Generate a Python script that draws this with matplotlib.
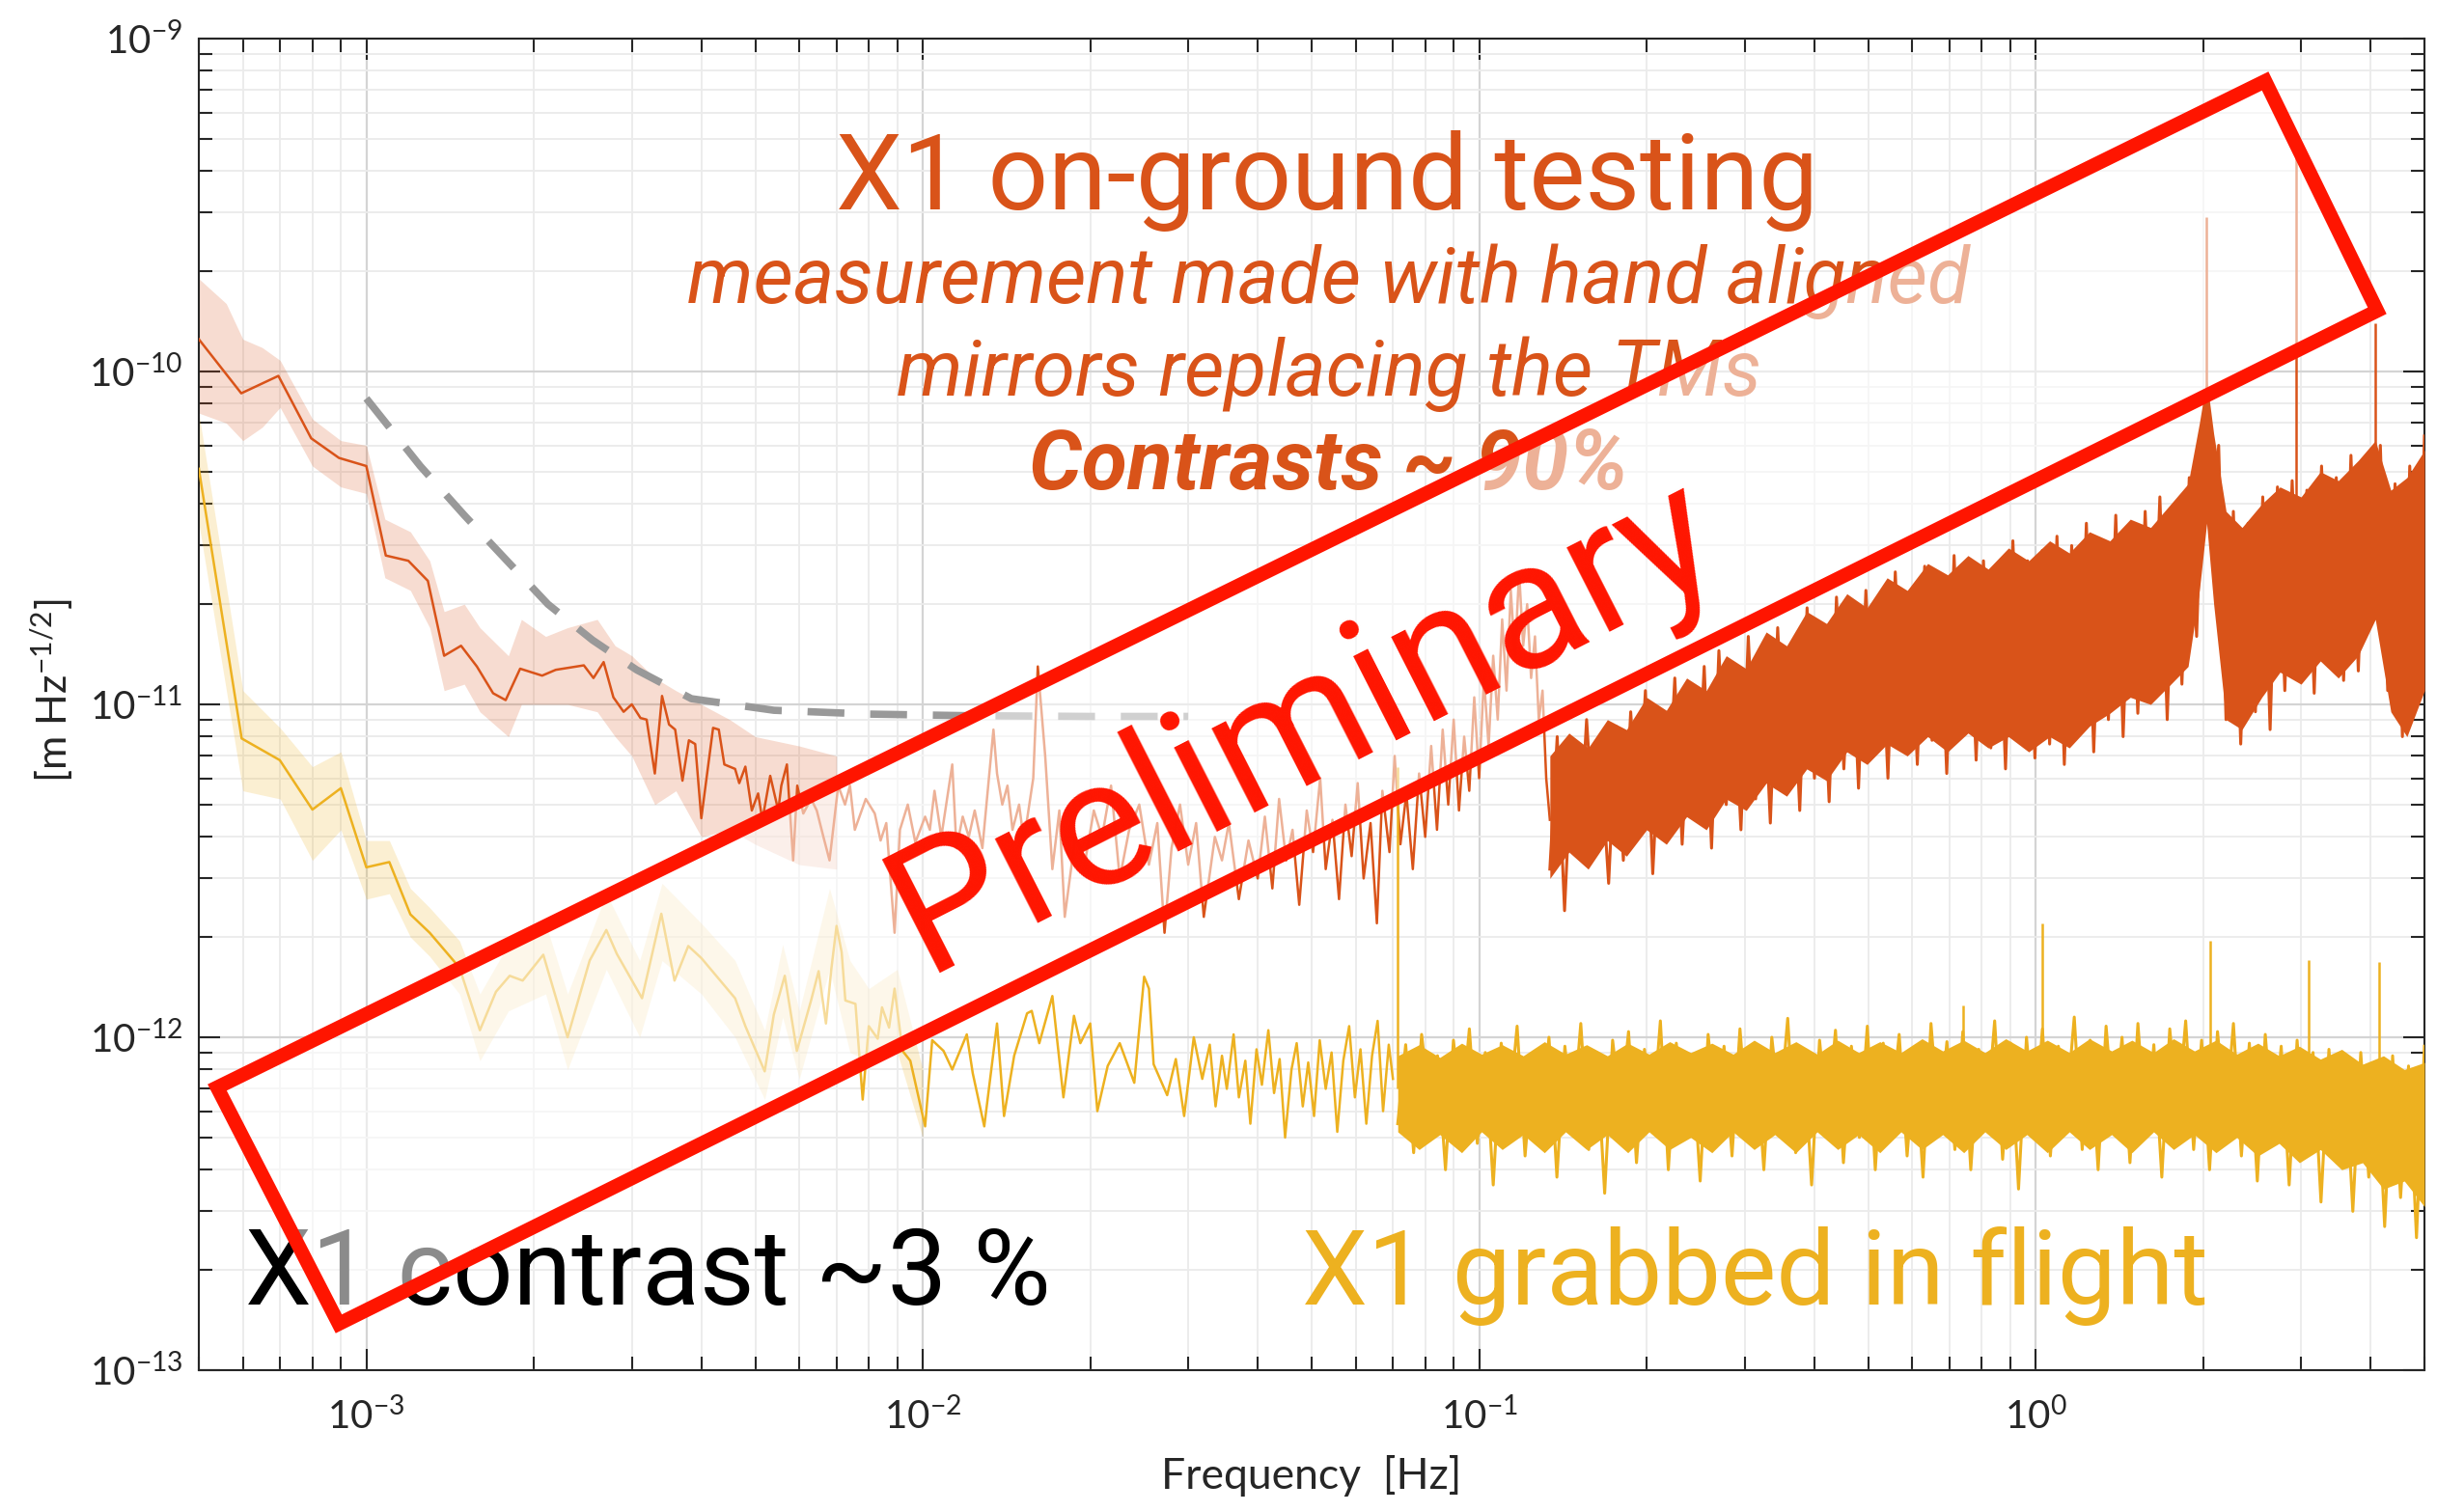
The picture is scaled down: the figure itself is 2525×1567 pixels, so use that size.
import matplotlib
matplotlib.use('Agg')
import matplotlib.pyplot as plt
import numpy as np
from matplotlib.patches import Polygon
from matplotlib.ticker import LogLocator, LogFormatterMathtext, NullFormatter

plt.rcParams['font.family'] = ['Lato', 'DejaVu Sans']
plt.rcParams['mathtext.fontset'] = 'custom'
plt.rcParams['mathtext.rm'] = 'Lato'
plt.rcParams['mathtext.it'] = 'Lato:italic'
plt.rcParams['mathtext.bf'] = 'Lato:bold'
ANNOT_FONT = ['Roboto', 'Lato', 'DejaVu Sans']

UNIT = 1e-12  # all values below are in units of 1e-12 m/sqrt(Hz)

ORANGE = '#D95319'
YELLOW = '#EDB120'
RED = '#FF1500'

# ---- X1 on-ground testing: averaged low-frequency line ----
ground_f = [5.0e-4, 5.96e-4, 6.95e-4, 7.96e-4, 8.93e-4, 1.0e-3, 1.084e-3, 1.19e-3, 1.29e-3, 1.38e-3,
            1.48e-3, 1.58e-3, 1.69e-3, 1.78e-3, 1.89e-3, 2.07e-3, 2.19e-3, 2.46e-3, 2.56e-3, 2.67e-3,
            2.78e-3, 2.9e-3, 3.0e-3, 3.11e-3, 3.19e-3, 3.3e-3, 3.4e-3, 3.5e-3, 3.59e-3, 3.7e-3,
            3.8e-3, 3.9e-3, 4.0e-3, 4.2e-3, 4.3e-3, 4.4e-3, 4.6e-3, 4.68e-3, 4.8e-3, 4.93e-3,
            5.06e-3, 5.15e-3, 5.32e-3, 5.5e-3, 5.57e-3, 5.7e-3, 5.85e-3, 5.95e-3, 6.1e-3, 6.3e-3,
            6.45e-3, 6.63e-3, 6.8e-3, 7.05e-3, 7.25e-3, 7.4e-3, 7.55e-3, 7.9e-3, 8.2e-3, 8.4e-3,
            8.6e-3, 8.9e-3, 9.1e-3, 9.4e-3, 9.7e-3, 1.01e-2, 1.03e-2, 1.05e-2, 1.08e-2, 1.13e-2,
            1.15e-2, 1.18e-2, 1.21e-2, 1.24e-2, 1.28e-2, 1.34e-2, 1.36e-2, 1.39e-2, 1.42e-2, 1.45e-2,
            1.49e-2, 1.52e-2, 1.58e-2, 1.61e-2, 1.66e-2, 1.71e-2, 1.76e-2, 1.80e-2, 1.88e-2, 1.96e-2,
            2.03e-2, 2.1e-2, 2.18e-2, 2.26e-2, 2.35e-2, 2.45e-2, 2.55e-2, 2.64e-2, 2.72e-2, 2.8e-2,
            2.9e-2, 3.0e-2, 3.1e-2, 3.2e-2, 3.35e-2, 3.45e-2, 3.55e-2, 3.7e-2, 3.85e-2, 4.0e-2,
            4.12e-2, 4.25e-2, 4.37e-2, 4.5e-2, 4.62e-2, 4.75e-2, 4.9e-2, 5.03e-2, 5.18e-2, 5.3e-2,
            5.45e-2, 5.6e-2, 5.75e-2, 5.9e-2, 6.05e-2, 6.2e-2, 6.38e-2, 6.55e-2, 6.7e-2, 6.9e-2,
            7.05e-2, 7.22e-2, 7.4e-2, 7.6e-2, 7.8e-2, 8.0e-2, 8.2e-2, 8.4e-2, 8.6e-2, 8.8e-2,
            9.0e-2, 9.2e-2, 9.4e-2, 9.6e-2, 9.8e-2, 0.100, 0.102, 0.104, 0.106, 0.108,
            0.110, 0.112, 0.114, 0.116, 0.118, 0.120, 0.122, 0.124, 0.126, 0.128,
            0.130, 0.132, 0.134]
ground_v = [125, 86, 97, 63, 55, 52, 28, 27, 23.5, 14,
            15, 13, 10.8, 10.3, 12.8, 12.2, 12.7, 13.1, 12.0, 13.4,
            10.5, 9.5, 10.0, 9.1, 9.0, 6.2, 10.6, 8.7, 8.4, 5.9,
            7.8, 7.6, 4.55, 8.5, 8.4, 6.6, 6.4, 5.8, 6.5, 4.8,
            5.4, 4.5, 6.1, 4.8, 5.7, 6.6, 3.4, 5.7, 4.7, 5.2,
            4.8, 4.0, 3.4, 5.7, 5.0, 5.7, 4.2, 5.2, 4.7, 3.9,
            4.4, 2.06, 4.2, 5.0, 3.85, 4.6, 4.2, 5.5, 4.0, 6.6,
            3.7, 4.6, 4.0, 4.8, 3.7, 8.4, 6.2, 5.0, 5.7, 4.2,
            5.0, 3.9, 6.0, 13.0, 7.0, 3.2, 4.8, 2.3, 4.0, 3.4,
            4.8, 4.0, 5.7, 3.0, 4.2, 5.0, 3.3, 4.4, 2.06, 3.7,
            5.0, 3.3, 4.4, 2.3, 4.0, 3.4, 4.4, 2.6, 3.9, 3.0,
            4.6, 2.8, 5.2, 3.4, 4.2, 2.5, 4.8, 3.6, 6.0, 3.2,
            4.5, 2.6, 5.0, 3.5, 5.8, 3.0, 4.4, 2.2, 5.5, 3.6,
            7.0, 3.8, 5.4, 3.2, 6.2, 4.0, 7.5, 4.2, 8.4, 5.0,
            9.0, 4.8, 8.0, 5.5, 10.5, 6.0, 12.0, 7.5, 14.0, 9.0,
            18.0, 11.0, 22.0, 14.0, 25.0, 15.0, 20.0, 12.0, 16.0, 9.0,
            11.0, 6.0, 4.5]

# shaded uncertainty band of the averaged on-ground line
ground_band_f = [5.0e-4, 5.6e-4, 6.0e-4, 6.5e-4, 7.0e-4, 8.0e-4, 9.0e-4, 1.0e-3, 1.08e-3, 1.2e-3,
                 1.3e-3, 1.38e-3, 1.5e-3, 1.6e-3, 1.8e-3, 1.9e-3, 2.1e-3, 2.3e-3, 2.6e-3, 2.8e-3,
                 3.0e-3, 3.3e-3, 3.6e-3, 4.0e-3, 4.5e-3, 5.0e-3, 6.0e-3, 7.0e-3]
ground_band_lo = [75, 70, 62, 68, 78, 52, 45, 43, 24, 22,
                  17, 11, 11.5, 9.5, 8.0, 10, 10, 10, 9.5, 8,
                  7, 5, 5.5, 4, 4.2, 3.8, 3.3, 3.2]
ground_band_hi = [190, 160, 125, 118, 108, 72, 62, 60, 36, 33,
                  27, 19, 20, 17, 14, 18, 16, 17, 18, 15,
                  14, 12, 11, 10, 9, 8, 7.5, 7]

# dense high-frequency part (0.134 - 5 Hz), one value per bin
ground_dense_v = [3.2, 8.0, 2.4, 7.2, 3.6, 9.0, 4.0, 6.5, 2.9, 8.6,
                  3.4, 9.5, 4.2, 11.0, 3.1, 8.8, 4.5, 12.0, 3.8, 10.2,
                  4.6, 13.0, 3.7, 14.5, 5.0, 11.5, 4.2, 16.0, 5.2, 13.5,
                  4.4, 17.0, 5.8, 15.0, 4.8, 19.5, 6.0, 16.5, 5.1, 21.0,
                  6.4, 18.0, 5.6, 22.0, 7.0, 19.5, 6.0, 25.0, 7.4, 21.0,
                  6.6, 26.0, 7.8, 23.0, 6.2, 28.0, 8.0, 24.0, 6.8, 27.0,
                  7.4, 25.0, 6.4, 31.0, 8.2, 27.0, 6.9, 29.0, 7.6, 32.0,
                  6.6, 30.0, 8.4, 35.0, 7.2, 31.0, 9.0, 37.0, 8.0, 33.0,
                  9.4, 38.0, 10.5, 42.0, 9.0, 40.0, 11.5, 48.0, 16.0, 75.0,
                  30.0, 60.0, 9.0, 38.0, 7.6, 35.0, 9.5, 42.0, 8.4, 45.0,
                  11.0, 47.0, 12.5, 44.0, 10.8, 52.0, 13.0, 48.0, 11.8, 56.0,
                  12.6, 50.0, 18.0, 60.0, 11.0, 46.0, 8.0, 52.0, 10.5, 64.0]
# solid core of the dense noise (ragged edges)
ground_core_f = [0.134, 0.145, 0.157, 0.170, 0.184, 0.200, 0.217, 0.236, 0.256, 0.278,
                 0.302, 0.328, 0.357, 0.388, 0.421, 0.458, 0.498, 0.541, 0.588, 0.640,
                 0.695, 0.756, 0.822, 0.894, 0.972, 1.06, 1.15, 1.25, 1.36, 1.48,
                 1.61, 1.75, 1.88, 1.97, 2.03, 2.09, 2.2, 2.35, 2.55, 2.75,
                 3.0, 3.25, 3.5, 3.8, 4.08, 4.35, 4.65, 5.0]
ground_core_lo = [3.0, 3.6, 3.2, 3.9, 3.5, 4.2, 3.8, 4.6, 4.2, 5.2,
                  4.8, 5.8, 5.3, 6.4, 5.9, 7.2, 6.6, 7.6, 7.0, 8.0,
                  7.2, 8.2, 7.4, 8.0, 7.2, 8.0, 7.4, 8.6, 9.4, 10.5,
                  10.0, 11.5, 13.0, 22.0, 35.0, 20.0, 9.0, 8.4, 10.5, 12.5,
                  11.5, 13.5, 12.0, 14.0, 18.0, 9.5, 8.0, 11.0]
ground_core_hi = [7.0, 8.2, 7.4, 9.0, 8.4, 10.5, 9.6, 12.0, 11.0, 14.0,
                  12.8, 16.5, 15.0, 19.0, 17.5, 21.5, 19.5, 24.0, 22.0, 26.5,
                  24.5, 28.0, 25.5, 29.5, 27.0, 31.0, 28.5, 33.0, 31.0, 36.0,
                  34.0, 40.0, 46.0, 70.0, 95.0, 65.0, 38.0, 34.0, 40.0, 45.0,
                  42.0, 50.0, 47.0, 54.0, 62.0, 44.0, 48.0, 58.0]
ground_lines_f = [2.03, 2.94, 4.08]
ground_lines_lo = [40, 40, 40]
ground_lines_hi = [290, 470, 140]

# ---- X1 grabbed in flight ----
flight_f = [5.0e-4, 5.97e-4, 6.99e-4, 8.0e-4, 9.0e-4, 1.0e-3, 1.1e-3, 1.2e-3, 1.3e-3, 1.47e-3,
            1.6e-3, 1.71e-3, 1.81e-3, 1.91e-3, 2.08e-3, 2.3e-3, 2.52e-3, 2.7e-3, 2.82e-3, 3.13e-3,
            3.39e-3, 3.58e-3, 3.79e-3, 4.0e-3, 4.6e-3, 4.8e-3, 5.2e-3, 5.4e-3, 5.65e-3, 5.94e-3,
            6.3e-3, 6.5e-3, 6.7e-3, 6.85e-3, 7.0e-3, 7.15e-3, 7.26e-3, 7.57e-3, 7.8e-3, 8.0e-3,
            8.3e-3, 8.45e-3, 8.7e-3, 8.9e-3, 9.2e-3, 9.5e-3, 1.01e-2, 1.04e-2, 1.09e-2, 1.13e-2,
            1.2e-2, 1.23e-2, 1.29e-2, 1.36e-2, 1.40e-2, 1.46e-2, 1.54e-2, 1.57e-2, 1.62e-2, 1.71e-2,
            1.79e-2, 1.87e-2, 1.92e-2, 2.0e-2, 2.06e-2, 2.15e-2, 2.26e-2, 2.4e-2, 2.5e-2, 2.55e-2,
            2.6e-2, 2.75e-2, 2.85e-2, 2.95e-2, 3.07e-2, 3.18e-2, 3.28e-2, 3.36e-2, 3.45e-2, 3.52e-2,
            3.62e-2, 3.7e-2, 3.8e-2, 3.88e-2, 3.98e-2, 4.07e-2, 4.18e-2, 4.28e-2, 4.38e-2, 4.48e-2,
            4.6e-2, 4.7e-2, 4.82e-2, 4.93e-2, 5.05e-2, 5.17e-2, 5.3e-2, 5.43e-2, 5.56e-2, 5.7e-2,
            5.84e-2, 5.98e-2, 6.12e-2, 6.27e-2, 6.42e-2, 6.57e-2, 6.72e-2, 6.88e-2, 7.0e-2]
flight_v = [51, 7.9, 6.8, 4.83, 5.6, 3.24, 3.36, 2.34, 2.06, 1.62,
            1.05, 1.37, 1.53, 1.48, 1.77, 1.0, 1.7, 2.1, 1.78, 1.31,
            2.35, 1.48, 1.88, 1.73, 1.31, 1.08, 0.79, 1.17, 1.53, 0.91,
            1.29, 1.58, 1.1, 1.6, 2.16, 1.8, 1.29, 1.26, 0.65, 1.08,
            0.99, 1.23, 1.07, 1.40, 0.91, 0.85, 0.54, 0.98, 0.91, 0.80,
            1.02, 0.78, 0.54, 1.1, 0.58, 0.88, 1.18, 1.2, 0.96, 1.33,
            0.66, 1.16, 0.96, 1.1, 0.60, 0.82, 0.96, 0.73, 1.52, 1.4,
            0.83, 0.67, 0.86, 0.58, 1.0, 0.75, 0.95, 0.62, 0.88, 0.70,
            1.02, 0.66, 0.85, 0.55, 0.92, 0.72, 1.05, 0.68, 0.86, 0.50,
            0.80, 0.96, 0.62, 0.84, 0.58, 0.98, 0.70, 0.90, 0.52, 0.85,
            1.08, 0.66, 0.92, 0.55, 0.88, 1.12, 0.60, 0.95, 0.75]

flight_band_f = [5.0e-4, 6.0e-4, 7.0e-4, 8.0e-4, 9.0e-4, 1.0e-3, 1.1e-3, 1.2e-3, 1.3e-3, 1.47e-3,
                 1.6e-3, 1.8e-3, 2.1e-3, 2.3e-3, 2.7e-3, 3.1e-3, 3.4e-3, 4.0e-3, 4.6e-3, 5.2e-3,
                 5.6e-3, 6.0e-3, 6.8e-3, 7.4e-3, 8.0e-3, 9.0e-3, 1.0e-2]
flight_band_lo = [35, 5.5, 5.2, 3.4, 4.2, 2.6, 2.7, 2.0, 1.75, 1.35,
                  0.85, 1.2, 1.35, 0.8, 1.6, 1.0, 1.7, 1.35, 1.0, 0.65,
                  1.15, 0.75, 1.6, 0.9, 0.85, 0.9, 0.5]
flight_band_hi = [75, 11, 8.5, 6.5, 7.2, 3.9, 3.9, 2.8, 2.45, 1.95,
                  1.35, 1.9, 2.2, 1.35, 2.7, 1.7, 2.9, 2.2, 1.7, 1.05,
                  1.9, 1.2, 2.8, 1.7, 1.4, 1.6, 0.8]

# dense part (0.0714 - 5 Hz), one value per bin
flight_dense_v = [0.55, 0.95, 0.45, 1.02, 0.62, 0.88, 0.40, 0.98, 0.58, 1.06,
                  0.48, 0.90, 0.36, 0.96, 0.60, 1.08, 0.44, 0.86, 0.52, 1.00,
                  0.38, 0.94, 0.56, 1.10, 0.46, 0.90, 0.34, 0.98, 0.60, 1.04,
                  0.42, 0.92, 0.55, 1.12, 0.40, 0.96, 0.50, 0.88, 0.37, 1.02,
                  0.58, 0.94, 0.44, 1.06, 0.52, 0.90, 0.40, 1.00, 0.60, 1.14,
                  0.45, 0.92, 0.36, 0.98, 0.55, 1.05, 0.42, 0.94, 0.50, 1.08,
                  0.40, 0.96, 0.58, 1.02, 0.44, 0.90, 0.38, 1.10, 0.54, 0.97,
                  0.46, 1.04, 0.40, 0.92, 0.57, 1.12, 0.43, 0.96, 0.35, 1.00,
                  0.52, 1.06, 0.44, 0.94, 0.60, 1.15, 0.46, 0.98, 0.40, 1.08,
                  0.55, 1.00, 0.42, 1.10, 0.50, 0.95, 0.38, 1.06, 0.58, 1.12,
                  0.46, 0.98, 0.40, 1.04, 0.56, 1.10, 0.44, 0.96, 0.37, 1.02,
                  0.50, 0.94, 0.36, 0.98, 0.45, 0.90, 0.32, 0.92, 0.42, 0.86,
                  0.30, 0.90, 0.38, 0.84, 0.27, 0.88, 0.33, 0.82, 0.25, 0.94]
flight_core_f = [0.0714, 0.078, 0.085, 0.093, 0.101, 0.110, 0.120, 0.131, 0.143, 0.156,
                 0.170, 0.185, 0.202, 0.220, 0.240, 0.262, 0.286, 0.312, 0.340, 0.371,
                 0.405, 0.441, 0.481, 0.525, 0.573, 0.625, 0.681, 0.743, 0.811, 0.884,
                 0.965, 1.05, 1.15, 1.25, 1.37, 1.49, 1.63, 1.77, 1.93, 2.11,
                 2.30, 2.51, 2.74, 2.98, 3.25, 3.55, 3.87, 4.22, 4.60, 5.0]
flight_core_lo = [0.52, 0.46, 0.51, 0.45, 0.52, 0.46, 0.51, 0.45, 0.52, 0.46,
                  0.51, 0.45, 0.52, 0.46, 0.50, 0.45, 0.52, 0.46, 0.51, 0.45,
                  0.52, 0.46, 0.51, 0.45, 0.52, 0.46, 0.51, 0.45, 0.52, 0.46,
                  0.51, 0.45, 0.52, 0.46, 0.51, 0.45, 0.52, 0.46, 0.51, 0.45,
                  0.50, 0.44, 0.48, 0.42, 0.46, 0.40, 0.42, 0.35, 0.37, 0.31]
flight_core_hi = [0.88, 0.95, 0.87, 0.96, 0.89, 0.95, 0.88, 0.97, 0.89, 0.95,
                  0.88, 0.96, 0.89, 0.97, 0.90, 0.96, 0.89, 0.98, 0.90, 0.97,
                  0.89, 0.98, 0.90, 0.97, 0.90, 0.99, 0.91, 0.98, 0.90, 0.99,
                  0.91, 0.98, 0.90, 0.99, 0.91, 0.98, 0.90, 0.99, 0.91, 0.98,
                  0.89, 0.96, 0.88, 0.94, 0.86, 0.92, 0.83, 0.88, 0.80, 0.84]
flight_lines_f = [0.0714, 0.74, 1.03, 2.06, 3.1, 4.14]
flight_lines_lo = [0.7, 0.9, 0.9, 0.9, 0.9, 0.8]
flight_lines_hi = [6.5, 1.25, 2.2, 1.95, 1.7, 1.68]

# ---- gray dashed reference curve ----
ref_f = [1.0e-3, 1.25e-3, 1.5e-3, 1.79e-3, 2.12e-3, 2.55e-3, 3.06e-3, 3.84e-3, 5.4e-3, 8e-3,
         1.2e-2, 2e-2, 3e-2]
ref_v = [83, 52, 37, 27, 20, 15.6, 12.7, 10.4, 9.6, 9.35, 9.25, 9.2, 9.2]


def scaled(vals):
    return np.asarray(vals) * UNIT


W, H = 2525, 1567
fig = plt.figure(figsize=(W / 100, H / 100), dpi=100)
ax = fig.add_axes([206 / W, 1 - 1420 / H, 2306 / W, 1380 / H])
ax.set_xscale('log')
ax.set_yscale('log')

# on-ground
ax.fill_between(ground_band_f, scaled(ground_band_lo), scaled(ground_band_hi),
                color=ORANGE, alpha=0.2, lw=0, zorder=2)
ax.plot(ground_f, scaled(ground_v), color=ORANGE, lw=1.8, zorder=3)
gd_f = np.geomspace(0.134, 5.0, len(ground_dense_v))
ax.plot(gd_f, scaled(ground_dense_v), color=ORANGE, lw=2.2, zorder=3)
ax.fill_between(ground_core_f, scaled(ground_core_lo), scaled(ground_core_hi),
                color=ORANGE, lw=0, zorder=3)
ax.vlines(ground_lines_f, scaled(ground_lines_lo), scaled(ground_lines_hi),
          color=ORANGE, lw=1.8, zorder=3)

# in flight
ax.fill_between(flight_band_f, scaled(flight_band_lo), scaled(flight_band_hi),
                color=YELLOW, alpha=0.2, lw=0, zorder=2)
ax.plot(flight_f, scaled(flight_v), color=YELLOW, lw=1.8, zorder=3.2)
fd_f = np.geomspace(0.0714, 5.0, len(flight_dense_v))
ax.plot(fd_f, scaled(flight_dense_v), color=YELLOW, lw=2.2, zorder=3.2)
ax.fill_between(flight_core_f, scaled(flight_core_lo), scaled(flight_core_hi),
                color=YELLOW, lw=0, zorder=3.2)
ax.vlines(flight_lines_f, scaled(flight_lines_lo), scaled(flight_lines_hi),
          color=YELLOW, lw=1.8, zorder=3.2)

ax.plot(ref_f, scaled(ref_v), color='#999999', lw=5.5, dashes=(5, 3.5), zorder=3.5)

ax.set_xlim(5e-4, 5)
ax.set_ylim(1e-13, 1e-9)

ax.xaxis.set_major_locator(LogLocator(base=10, numticks=20))
ax.yaxis.set_major_locator(LogLocator(base=10, numticks=20))
ax.xaxis.set_minor_locator(LogLocator(base=10, subs=np.arange(2, 10), numticks=20))
ax.yaxis.set_minor_locator(LogLocator(base=10, subs=np.arange(2, 10), numticks=20))
ax.xaxis.set_major_formatter(LogFormatterMathtext())
ax.yaxis.set_major_formatter(LogFormatterMathtext())
ax.xaxis.set_minor_formatter(NullFormatter())
ax.yaxis.set_minor_formatter(NullFormatter())

ax.set_axisbelow(True)
ax.grid(True, which='major', color='#d4d4d4', lw=1.6)
ax.grid(True, which='minor', color='#ebebeb', lw=1.3)
ax.tick_params(which='both', direction='in', top=True, right=True, width=1.5,
               color='#262626', labelcolor='#262626', labelsize=29)
ax.tick_params(which='major', length=16)
ax.tick_params(which='minor', length=10)
ax.tick_params(axis='x', pad=20)
ax.tick_params(axis='y', pad=12)
for s in ax.spines.values():
    s.set_linewidth(1.5)
    s.set_color('#262626')

ax.set_xlabel('Frequency  [Hz]', fontsize=32, color='#262626')
ax.set_ylabel('[m Hz$^{-1/2}$]', fontsize=31, color='#262626')
ax.xaxis.set_label_coords(0.5, -0.064)
ax.yaxis.set_label_coords(-0.055, 0.51)


def fig_xy(px, py):
    return px / W, 1 - py / H


tf = fig.transFigure
ax.text(*fig_xy(1375, 217), 'X1 on-ground testing', transform=tf, ha='center',
        va='baseline', fontsize=79, color=ORANGE, family=ANNOT_FONT, zorder=4)
ax.text(*fig_xy(1377, 314), 'measurement made with hand aligned', transform=tf,
        ha='center', va='baseline', fontsize=58, color=ORANGE, style='italic',
        family=ANNOT_FONT, zorder=4)
ax.text(*fig_xy(1377, 410), 'mirrors replacing the TMs', transform=tf,
        ha='center', va='baseline', fontsize=58, color=ORANGE, style='italic',
        family=ANNOT_FONT, zorder=4)
ax.text(*fig_xy(1377, 507), 'Contrasts ~ 90%', transform=tf,
        ha='center', va='baseline', fontsize=62, color=ORANGE, style='italic',
        family=ANNOT_FONT, fontweight='bold', zorder=4)
ax.text(*fig_xy(254, 1352), 'X1 contrast ~3 %', transform=tf, ha='left',
        va='baseline', fontsize=79, color='black', family=ANNOT_FONT, zorder=4)
ax.text(*fig_xy(1349, 1352), 'X1 grabbed in flight', transform=tf, ha='left',
        va='baseline', fontsize=78, color=YELLOW, family=ANNOT_FONT, zorder=4)

# "Preliminary" stamp: translucent white box with red border
corners = [fig_xy(225, 1127), fig_xy(351, 1372), fig_xy(2463, 322), fig_xy(2347, 84)]
ax.add_patch(Polygon(corners, closed=True, transform=tf, facecolor='white',
                     edgecolor='none', alpha=0.55, zorder=10, clip_on=False))
ax.add_patch(Polygon(corners, closed=True, transform=tf, fill=False,
                     edgecolor=RED, lw=10.5, joinstyle='miter', zorder=12, clip_on=False))
ax.text(*fig_xy(1352, 752), 'Preliminary', transform=tf, ha='center', va='center',
        rotation=27, rotation_mode='anchor', fontsize=134, color=RED,
        family=ANNOT_FONT, zorder=13)

fig.savefig('out.png', dpi=100)
